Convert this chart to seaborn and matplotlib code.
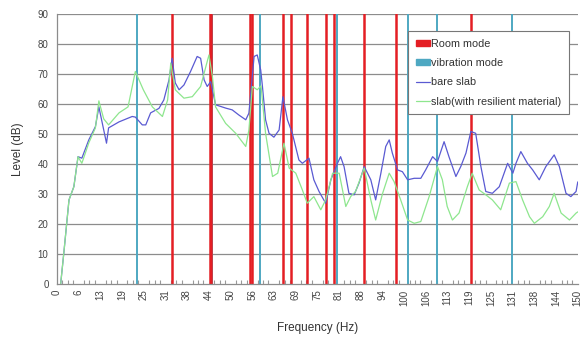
import numpy as np
import pandas as pd
import seaborn as sns
from matplotlib import pyplot as plt
from matplotlib.lines import Line2D
from matplotlib.patches import Patch
from matplotlib.ticker import MultipleLocator

sns.set_theme(style='white')
plt.rcParams['font.family'] = ['Liberation Sans', 'DejaVu Sans']

# bare slab
bare_hz = [1.1, 2.0, 3.5, 4.9, 6.1, 7.2, 9.2, 11.1, 12.1, 14.3, 14.9, 17.9, 21.7, 22.6, 24.6, 25.6,
           27.0, 29.4, 30.8, 32.3, 33.2, 34.1, 35.2, 36.6, 38.5, 40.4, 41.4, 42.4, 43.3, 44.3, 44.8,
           45.7, 48.6, 50.5, 52.4, 54.4, 55.3, 56.8, 57.7, 58.7, 59.2, 60.1, 61.1, 62.5, 64.0, 65.1,
           66.4, 67.8, 69.7, 70.7, 72.6, 74.0, 75.5, 77.4, 78.9, 80.8, 81.7, 82.7, 84.1, 85.6, 87.0,
           88.5, 90.4, 91.8, 93.3, 94.7, 95.7, 96.6, 98.1, 99.5, 101.0, 102.9, 104.8, 106.2, 108.2,
           109.6, 111.5, 112.9, 114.9, 116.3, 117.8, 119.2, 120.6, 122.1, 123.5, 125.4, 127.4, 129.8,
           131.3, 132.2, 133.6, 135.5, 137.0, 138.9, 140.8, 143.2, 144.7, 146.6, 148.0, 149.5, 150.0]
bare_db = [0, 10.2, 28, 32.4, 42.4, 41.9, 48, 52.4, 59, 46.9, 52, 54, 55.8, 55.6, 53, 53,
           57, 58.5, 61.3, 68, 75.2, 67, 64.7, 66.3, 70.8, 75.8, 75.2, 68, 65.8, 67.4, 64.7,
           59.7, 58.6, 58, 56.3, 54.7, 56.9, 75.8, 76.3, 71.3, 65.8, 54.7, 50.2, 48.9, 51.3, 62.4,
           54.7, 50.2, 41.3, 40.2, 41.9, 34.7, 30.8, 26.9, 34.7, 40.2, 42.4, 39.1, 30.2, 29.7, 33.6,
           39.1, 34.7, 28, 36.9, 45.8, 48, 43.6, 38, 37.4, 34.7, 35.2, 35.2, 38, 42.4,
           40.8, 47.4, 42.4, 35.8, 39.1, 43.6, 50.8, 50.2, 39.1, 30.8, 30.2, 32.4, 40.2,
           36.9, 40.2, 44.1, 40.2, 38, 34.7, 39.1, 43, 39.1, 30.2, 29.1, 30.8, 34]

# slab with resilient material
res_hz = [1.1, 2.0, 3.5, 4.9, 6.1, 7.2, 9.2, 11.1, 12.1, 13.5, 14.9, 17.9, 20.5, 22.6, 24.9, 27.5,
          30.4, 31.9, 32.8, 34.1, 36.6, 39.0, 41.4, 42.9, 43.8, 44.8, 45.7, 48.6, 51.5, 54.4, 55.3,
          56.3, 57.7, 58.8, 60.1, 62.1, 63.6, 65.4, 66.9, 68.8, 70.7, 72.1, 74.0, 76.0, 77.4, 79.4,
          81.3, 83.2, 84.6, 86.0, 88.5, 90.4, 91.8, 93.8, 95.7, 97.1, 99.0, 101.0, 102.9, 104.8,
          107.2, 109.6, 111.0, 112.4, 113.9, 115.8, 118.2, 119.6, 121.6, 123.5, 125.4, 127.8, 130.3,
          132.2, 134.1, 136.1, 137.5, 139.9, 141.8, 143.2, 145.2, 147.6, 149.5, 150.0]
res_db = [0, 10.2, 28, 32.4, 42.4, 40.2, 47, 52, 61, 55, 53, 57, 59, 70.8, 64.7, 59,
          55.8, 61.3, 73.6, 64.7, 61.9, 62.4, 65.8, 72.4, 76.3, 69, 59, 53.5, 50.2, 45.8, 51.3,
          65.8, 64.7, 66, 50.2, 35.8, 36.9, 46.9, 38.6, 36.9, 31.3, 26.9, 29.1, 24.7, 28, 36.9,
          36.9, 25.8, 29.1, 30.8, 38.6, 28, 21.3, 30.2, 36.9, 34.1, 28, 21.3, 20.2, 20.8,
          29.1, 39.1, 34.7, 25.8, 21.3, 23.6, 32.4, 36.9, 31.3, 29.7, 28, 24.7, 33.6,
          34.1, 28, 22.4, 20.2, 22.4, 25.8, 30.2, 23.6, 21.3, 23.6, 24]

room_modes = [33.1, 44.0, 44.3, 55.7, 56.2, 65.1, 67.4, 72.0, 77.5, 79.8, 88.5, 97.7, 119.3]
vibration_modes = [23.1, 44.7, 58.5, 80.7, 101.2, 109.5, 131.1]

tick_pos = [0, 6.25, 12.5, 18.75, 25, 31.25, 37.5, 43.75, 50, 56.25, 62.5, 68.75, 75, 81.25,
            87.5, 93.75, 100, 106.25, 112.5, 118.75, 125, 131.25, 137.5, 143.75, 150]
tick_labels = ['0', '6', '13', '19', '25', '31', '38', '44', '50', '56', '63', '69', '75', '81',
               '88', '94', '100', '106', '113', '119', '125', '131', '138', '144', '150']

df = pd.concat([
    pd.DataFrame({'Hz': bare_hz, 'dB': bare_db, 'series': 'bare slab'}),
    pd.DataFrame({'Hz': res_hz, 'dB': res_db, 'series': 'slab(with resilient material)'}),
])

blue = '#5a5ad2'
green = '#8ee68e'
red = '#e41e24'
cyan = '#4ea8c2'

fig = plt.figure(figsize=(5.86, 3.38), dpi=100)
ax = fig.add_axes([0.097, 0.16, 0.889, 0.799])

for y in range(10, 100, 10):
    ax.axhline(y, color='#8c8c8c', lw=0.9, zorder=0)

for f in vibration_modes:
    ax.axvline(f, ymin=0, ymax=1, color=cyan, lw=1.4, zorder=1)
for f in room_modes:
    ax.axvline(f, ymin=0, ymax=1, color=red, lw=1.8, zorder=1)

sns.lineplot(data=df, x='Hz', y='dB', hue='series', palette=[blue, green],
             linewidth=0.9, ax=ax, legend=False, zorder=2, sort=False)

ax.set_xlim(0, 150)
ax.set_ylim(0, 90)
ax.set_yticks(range(0, 100, 10))
ax.set_xticks(tick_pos)
ax.set_xticklabels(tick_labels, rotation=90)
ax.xaxis.set_minor_locator(MultipleLocator(1.5625))
ax.tick_params(axis='x', which='minor', direction='in', length=3, width=0.8, color='#999999', bottom=True)
ax.tick_params(axis='both', which='major', labelsize=7, colors='#444444', length=0)
ax.tick_params(axis='x', which='major', pad=4)
ax.tick_params(axis='y', which='major', pad=6)

for s in ['top', 'right']:
    ax.spines[s].set_visible(False)
for s in ['left', 'bottom']:
    ax.spines[s].set_color('#8c8c8c')
    ax.spines[s].set_linewidth(0.9)

ax.set_xlabel('Frequency (Hz)', fontsize=8.5, color='#333333', labelpad=12)
ax.set_ylabel('Level (dB)', fontsize=8.5, color='#333333', labelpad=10)

handles = [Patch(facecolor=red, edgecolor=red), Patch(facecolor=cyan, edgecolor=cyan),
           Line2D([], [], color=blue, lw=0.9), Line2D([], [], color=green, lw=0.9)]
labels = ['Room mode', 'vibration mode', 'bare slab', 'slab(with resilient material)']
leg = ax.legend(handles, labels, loc='upper left', bbox_to_anchor=(0.664, 0.955),
                fontsize=7.8, frameon=True, fancybox=False, edgecolor='#777777',
                handlelength=1.3, handleheight=0.5, handletextpad=0.1, labelspacing=0.85,
                borderpad=0.7, framealpha=1)
leg.get_frame().set_linewidth(0.8)
for t in leg.get_texts():
    t.set_color('#333333')

fig.savefig('out.png', dpi=100)
